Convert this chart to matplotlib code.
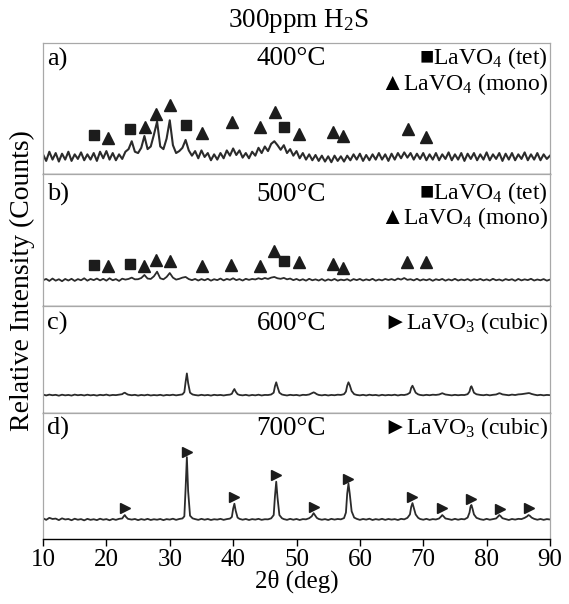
import matplotlib
matplotlib.use('Agg')
import matplotlib.pyplot as plt
import numpy as np

plt.rcParams['font.family'] = ['Liberation Serif', 'DejaVu Sans']
plt.rcParams['mathtext.fontset'] = 'custom'
plt.rcParams['mathtext.rm'] = 'Liberation Serif'

# ---- 2theta grid for panels a) and b) (0.5 deg steps) ----
two_theta_ab = [
    10.0, 10.5, 11.0, 11.5, 12.0, 12.5, 13.0, 13.5, 14.0, 14.5,
    15.0, 15.5, 16.0, 16.5, 17.0, 17.5, 18.0, 18.5, 19.0, 19.5,
    20.0, 20.5, 21.0, 21.5, 22.0, 22.5, 23.0, 23.5, 24.0, 24.5,
    25.0, 25.5, 26.0, 26.5, 27.0, 27.5, 28.0, 28.5, 29.0, 29.5,
    30.0, 30.5, 31.0, 31.5, 32.0, 32.5, 33.0, 33.5, 34.0, 34.5,
    35.0, 35.5, 36.0, 36.5, 37.0, 37.5, 38.0, 38.5, 39.0, 39.5,
    40.0, 40.5, 41.0, 41.5, 42.0, 42.5, 43.0, 43.5, 44.0, 44.5,
    45.0, 45.5, 46.0, 46.5, 47.0, 47.5, 48.0, 48.5, 49.0, 49.5,
    50.0, 50.5, 51.0, 51.5, 52.0, 52.5, 53.0, 53.5, 54.0, 54.5,
    55.0, 55.5, 56.0, 56.5, 57.0, 57.5, 58.0, 58.5, 59.0, 59.5,
    60.0, 60.5, 61.0, 61.5, 62.0, 62.5, 63.0, 63.5, 64.0, 64.5,
    65.0, 65.5, 66.0, 66.5, 67.0, 67.5, 68.0, 68.5, 69.0, 69.5,
    70.0, 70.5, 71.0, 71.5, 72.0, 72.5, 73.0, 73.5, 74.0, 74.5,
    75.0, 75.5, 76.0, 76.5, 77.0, 77.5, 78.0, 78.5, 79.0, 79.5,
    80.0, 80.5, 81.0, 81.5, 82.0, 82.5, 83.0, 83.5, 84.0, 84.5,
    85.0, 85.5, 86.0, 86.5, 87.0, 87.5, 88.0, 88.5, 89.0, 89.5,
    90.0,
]

# a) 400 C  (relative intensity, arbitrary units)
int_400 = [
    15, 10, 17, 11, 16, 9.5, 15.5, 11, 17, 10,
    15, 11.5, 16.5, 10.5, 15, 11, 16, 10, 17, 12,
    17.5, 11, 16, 10.5, 15, 11.5, 17, 19, 25, 17,
    16, 20, 29, 19, 21, 30, 40, 21, 19, 27,
    41, 22, 16, 17.5, 20, 26, 18, 14, 17.5, 12,
    18, 13, 16, 10.5, 15, 11, 16, 12, 18, 14,
    19.5, 14.5, 18, 12.5, 16, 12, 17, 14, 20, 16,
    21, 17.5, 23, 25, 22, 18.5, 22, 16, 19, 14,
    17.5, 12, 16, 11, 15, 10.5, 14.5, 10, 14, 9.5,
    13.5, 9, 14, 10, 13.5, 9.5, 14, 10.5, 15, 11,
    15.5, 10, 14.5, 10.5, 15, 11, 16, 11, 15, 10,
    15.5, 11, 16, 12, 16.5, 12.5, 16, 11, 15.5, 11.5,
    16, 10.5, 15, 11, 16, 10.5, 15, 11.5, 16.5, 10.5,
    15, 11, 16, 10, 15.5, 11.5, 16, 10.5, 15, 11,
    16.5, 10.5, 15, 11.5, 16, 10, 15.5, 11, 16, 10.5,
    15, 11.5, 16.5, 10.5, 15, 11, 16, 10.5, 15, 11.5,
    14,
]

# b) 500 C
int_500 = [
    19.5, 20.5, 19, 20.8, 19.2, 20.3, 18.8, 20.5, 19.3, 20.6,
    19, 20.4, 19.5, 21, 19.2, 20.5, 19.6, 20.8, 19.4, 20.6,
    19.2, 21, 19.5, 20.4, 19, 20.7, 20, 20.5, 21.5, 20.2,
    20.3, 21.2, 23.5, 20.8, 20.5, 22.5, 26, 21, 20.2, 22,
    25, 21.5, 20, 20.6, 21.5, 22, 20.4, 19.6, 20.5, 19.3,
    20.4, 19.5, 20.6, 19.2, 20.3, 19.6, 20.8, 19.4, 20.5, 19.8,
    21, 19.6, 20.4, 19.3, 20.6, 19.8, 20.5, 20.1, 21, 20.3,
    21.2, 20.5, 21.5, 22, 21, 20.6, 21.3, 20.2, 20.8, 19.6,
    20.5, 19.4, 20.3, 19.2, 20.6, 19.5, 20.2, 19.3, 20.4, 19.1,
    20.2, 19.4, 20.5, 19.2, 20, 19.5, 20.3, 19.1, 20.4, 19.6,
    20.5, 19.3, 20.2, 19.5, 20.6, 19.2, 20.1, 19.4, 20.5, 19.7,
    20.4, 19.5, 20.8, 20, 21.2, 19.8, 20.3, 19.4, 20.6, 19.3,
    20.2, 19.5, 20.4, 19.1, 20.3, 19.6, 20.5, 19.2, 20.2, 19.4,
    20.6, 19.3, 20.1, 19.5, 20.4, 19.2, 20.3, 19.6, 20.5, 19.4,
    20.2, 19.3, 20.6, 19.5, 20.1, 19.2, 20.4, 19.6, 20.3, 19.1,
    20.5, 19.4, 20.2, 19.6, 20.6, 19.3, 20.1, 19.5, 20.4, 19.2,
    20,
]

# ---- 2theta grid for panels c) and d) (denser around LaVO3 peaks) ----
two_theta_cd = [
    10.0, 10.5, 11.0, 11.5, 12.0, 12.5, 13.0, 13.5, 14.0, 14.5, 15.0, 15.5, 16.0,
    16.5, 17.0, 17.5, 18.0, 18.5, 19.0, 19.5, 20.0, 20.5, 21.0, 21.5, 22.0,
    22.5, 22.7, 22.9, 23.1, 23.4,
    24.0, 24.5, 25.0, 25.5, 26.0, 26.5, 27.0, 27.5, 28.0, 28.5, 29.0, 29.5,
    30.0, 30.5, 31.0, 31.5, 32.0,
    32.3, 32.5, 32.7, 32.9, 33.2, 33.6,
    34.0, 34.5, 35.0, 35.5, 36.0, 36.5, 37.0, 37.5, 38.0, 38.5, 39.0, 39.5,
    39.8, 40.0, 40.2, 40.4, 40.7,
    41.0, 41.5, 42.0, 42.5, 43.0, 43.5, 44.0, 44.5, 45.0, 45.5, 46.0,
    46.4, 46.6, 46.8, 47.0, 47.3, 47.7,
    48.0, 48.5, 49.0, 49.5, 50.0, 50.5, 51.0, 51.5, 52.0,
    52.4, 52.7, 52.9, 53.2,
    53.5, 54.0, 54.5, 55.0, 55.5, 56.0, 56.5, 57.0, 57.5,
    57.8, 58.0, 58.2, 58.4, 58.7, 59.1,
    59.5, 60.0, 60.5, 61.0, 61.5, 62.0, 62.5, 63.0, 63.5, 64.0, 64.5, 65.0,
    65.5, 66.0, 66.5, 67.0, 67.5,
    67.9, 68.1, 68.3, 68.5, 68.8, 69.2,
    69.5, 70.0, 70.5, 71.0, 71.5, 72.0, 72.5,
    72.8, 73.0, 73.2, 73.5,
    74.0, 74.5, 75.0, 75.5, 76.0, 76.5, 77.0,
    77.3, 77.45, 77.6, 77.75, 78.0, 78.4,
    79.0, 79.5, 80.0, 80.5, 81.0, 81.5,
    81.8, 82.0, 82.2, 82.5,
    83.0, 83.5, 84.0, 84.5, 85.0, 85.5, 86.0,
    86.4, 86.6, 86.8, 87.1,
    87.5, 88.0, 88.5, 89.0, 89.5, 90.0,
]

# c) 600 C
int_600 = [
    17.3, 16.4, 17.2, 16.6, 17.0, 16.2, 17.1, 16.5, 16.9, 16.3, 17.2, 16.6, 17.0,
    16.4, 17.1, 16.5, 16.9, 16.3, 17.0, 16.6, 17.2, 16.4, 16.9, 16.7, 17.2,
    17.6, 18.5, 19.0, 18.2, 17.2,
    16.6, 17.0, 16.3, 16.9, 16.5, 17.1, 16.4, 16.8, 16.5, 17.0, 16.3, 16.9,
    16.6, 17.1, 16.5, 16.9, 17.4,
    19.5, 29.0, 37.0, 28.0, 19.0, 17.3,
    16.8, 16.4, 17.0, 16.5, 16.9, 16.3, 17.0, 16.6, 16.9, 16.4, 16.9, 17.2,
    18.0, 20.5, 22.4, 20.0, 17.6,
    16.9, 16.5, 17.0, 16.3, 16.9, 16.5, 17.1, 16.4, 16.9, 16.8, 17.3,
    19.0, 25.0, 28.7, 24.5, 19.0, 17.3,
    16.9, 16.4, 17.0, 16.6, 16.9, 16.3, 17.0, 16.8, 17.3,
    18.4, 19.3, 18.8, 17.6,
    16.9, 16.5, 17.0, 16.4, 16.9, 16.6, 17.1, 16.9, 17.6,
    20.0, 25.5, 28.7, 26.0, 20.5, 17.6,
    16.9, 16.5, 17.0, 16.4, 17.1, 16.6, 16.9, 16.3, 17.0, 16.5, 16.9, 16.6,
    17.1, 16.4, 17.0, 16.8, 17.5,
    19.0, 23.5, 25.5, 23.0, 19.0, 17.4,
    16.9, 16.5, 17.0, 16.6, 17.1, 16.9, 17.3,
    18.0, 18.5, 18.0, 17.3,
    16.9, 16.5, 17.0, 16.6, 16.9, 16.8, 17.6,
    20.0, 23.5, 25.0, 23.0, 19.0, 17.5,
    16.9, 16.6, 17.1, 16.5, 17.0, 17.3,
    18.0, 18.5, 18.2, 17.4,
    17.0, 16.6, 17.2, 16.8, 17.4, 17.6, 18.0,
    18.4, 18.6, 18.5, 17.8,
    17.2, 16.6, 17.0, 16.5, 16.9, 16.7,
]

# d) 700 C
int_700 = [
    16.5, 15.2, 16.8, 15.9, 16.2, 15.0, 16.4, 15.5, 15.9, 14.9, 16.1, 15.3, 15.8,
    14.8, 16.0, 15.2, 15.7, 15.0, 16.1, 15.3, 15.8, 14.9, 15.9, 15.2, 16.0,
    16.3, 17.8, 19.0, 17.5, 16.0,
    15.4, 15.9, 15.0, 15.8, 15.2, 16.0, 15.1, 15.7, 15.3, 15.9, 15.0, 15.8,
    15.4, 16.1, 15.2, 15.9, 16.3,
    18.0, 40.0, 65.0, 38.0, 18.5, 16.4,
    15.8, 15.2, 16.0, 15.3, 15.9, 15.1, 15.7, 15.4, 16.0, 15.2, 15.8, 16.2,
    17.5, 24.0, 28.0, 22.5, 17.0,
    16.0, 15.3, 15.9, 15.1, 15.8, 15.4, 16.0, 15.2, 15.7, 15.6, 16.4,
    19.0, 34.0, 45.5, 33.0, 19.0, 16.5,
    15.8, 15.2, 16.0, 15.3, 15.9, 15.1, 15.8, 15.6, 16.5,
    18.0, 20.5, 19.0, 16.8,
    15.9, 15.3, 15.8, 15.1, 16.0, 15.4, 15.9, 15.6, 16.6,
    21.0, 36.0, 44.0, 36.0, 22.0, 17.0,
    16.0, 15.2, 15.9, 15.4, 16.1, 15.1, 15.8, 15.3, 16.0, 15.2, 15.9, 15.4,
    15.8, 15.1, 16.0, 15.6, 16.8,
    19.5, 25.5, 28.5, 25.0, 19.5, 16.8,
    15.9, 15.3, 16.0, 15.2, 15.8, 15.5, 16.3,
    17.8, 19.0, 18.0, 16.3,
    15.8, 15.2, 16.0, 15.3, 15.9, 15.6, 17.0,
    21.0, 25.5, 27.0, 24.5, 19.5, 16.8,
    15.7, 15.2, 16.0, 15.3, 15.8, 16.3,
    17.8, 19.0, 18.2, 16.5,
    15.8, 15.1, 15.9, 15.4, 16.0, 15.8, 16.8,
    18.0, 19.0, 18.5, 17.0,
    16.0, 15.3, 15.9, 15.2, 15.8, 15.5,
]

# ---- phase markers ----
tet_400_x = [18.1, 23.8, 32.6, 48.0]
tet_400_y = [29.8, 34.4, 37.4, 35.6]
mono_400_x = [20.2, 26.1, 27.8, 30.1, 35.1, 39.8, 44.3, 46.6, 50.4, 55.7, 57.4, 67.6, 70.5]
mono_400_y = [27.2, 35.6, 45.8, 52.7, 31.0, 39.5, 36.1, 47.1, 30.5, 31.8, 29.0, 34.4, 28.0]

tet_500_x = [18.1, 23.8, 48.0]
tet_500_y = [31, 32, 34]
mono_500_x = [20.3, 26.0, 27.8, 30.0, 35.1, 39.7, 44.3, 46.5, 50.4, 55.7, 57.4, 67.5, 70.4]
mono_500_y = [30, 30, 35, 34, 30, 31, 30, 42, 33, 32, 29, 33, 33]

cubic_700_x = [23.0, 32.7, 40.2, 46.8, 52.7, 58.2, 68.3, 73.0, 77.6, 82.1, 86.7]
cubic_700_y = [25.0, 69.0, 33.6, 50.5, 25.6, 48.0, 33.6, 25.0, 31.7, 23.8, 24.3]

panel_labels = ['a)', 'b)', 'c)', 'd)']
temps = ['400°C', '500°C', '600°C', '700°C']
tet_label = '■LaVO$\\mathregular{_4}$ (tet)'
mono_label = '▲LaVO$\\mathregular{_4}$ (mono)'
cubic_label = '►LaVO$\\mathregular{_3}$ (cubic)'

line_c = '#2b2b2b'
mark_c = '#1c1c1c'
frame_c = '#a8a8a8'
sep_c = '#555555'

fig = plt.figure(figsize=(5.69, 6.04), dpi=100)
gs = fig.add_gridspec(4, 1, height_ratios=[131, 132, 107, 126], hspace=0,
                      left=0.0756, right=0.9666, top=0.9288, bottom=0.1076)
axes = [fig.add_subplot(gs[i]) for i in range(4)]

axes[0].plot(two_theta_ab, int_400, color=line_c, lw=1.5)
axes[1].plot(two_theta_ab, int_500, color=line_c, lw=1.3)
axes[2].plot(two_theta_cd, int_600, color=line_c, lw=1.3)
axes[3].plot(two_theta_cd, int_700, color=line_c, lw=1.3)

axes[0].plot(tet_400_x, tet_400_y, 's', color=mark_c, ms=7, ls='none')
axes[0].plot(mono_400_x, mono_400_y, '^', color=mark_c, ms=8, ls='none')
axes[1].plot(tet_500_x, tet_500_y, 's', color=mark_c, ms=7, ls='none')
axes[1].plot(mono_500_x, mono_500_y, '^', color=mark_c, ms=8, ls='none')
axes[3].plot(cubic_700_x, cubic_700_y, '>', color=mark_c, ms=6.5, ls='none')

row_y = [0.878, 0.848, 0.84, 0.88]
for i, ax in enumerate(axes):
    ax.set_xlim(10, 90)
    ax.set_ylim(0, 100)
    ax.set_yticks([])
    for side in ['left', 'right', 'top']:
        ax.spines[side].set_color(frame_c)
        ax.spines[side].set_linewidth(0.9)
    ax.spines['bottom'].set_color(sep_c if i < 3 else 'black')
    ax.spines['bottom'].set_linewidth(1.0)
    if i < 3:
        ax.tick_params(axis='x', bottom=False, labelbottom=False)
    ax.text(0.008, row_y[i], panel_labels[i], transform=ax.transAxes,
            ha='left', va='center', fontsize=19)
    ax.text(0.49, row_y[i], temps[i], transform=ax.transAxes,
            ha='center', va='center', fontsize=19.5)

# phase legends
axes[0].text(0.996, 0.885, tet_label, transform=axes[0].transAxes, ha='right', va='center', fontsize=17)
axes[0].text(0.996, 0.69, mono_label, transform=axes[0].transAxes, ha='right', va='center', fontsize=17)
axes[1].text(0.996, 0.855, tet_label, transform=axes[1].transAxes, ha='right', va='center', fontsize=17)
axes[1].text(0.996, 0.665, mono_label, transform=axes[1].transAxes, ha='right', va='center', fontsize=17)
axes[2].text(0.996, 0.84, cubic_label, transform=axes[2].transAxes, ha='right', va='center', fontsize=17)
axes[3].text(0.996, 0.88, cubic_label, transform=axes[3].transAxes, ha='right', va='center', fontsize=17)

ax_d = axes[3]
ax_d.set_xticks([10, 20, 30, 40, 50, 60, 70, 80, 90])
ax_d.tick_params(axis='x', direction='out', length=5, width=1, pad=2, labelsize=18)
ax_d.set_xlabel('2θ (deg)', fontsize=18, labelpad=-1)

fig.text(0.524, 0.966, '300ppm H$\\mathregular{_2}$S', ha='center', va='center', fontsize=19.5)
fig.text(0.04, 0.535, 'Relative Intensity (Counts)', rotation=90, ha='center', va='center', fontsize=20)

fig.savefig('out.png', dpi=100)
